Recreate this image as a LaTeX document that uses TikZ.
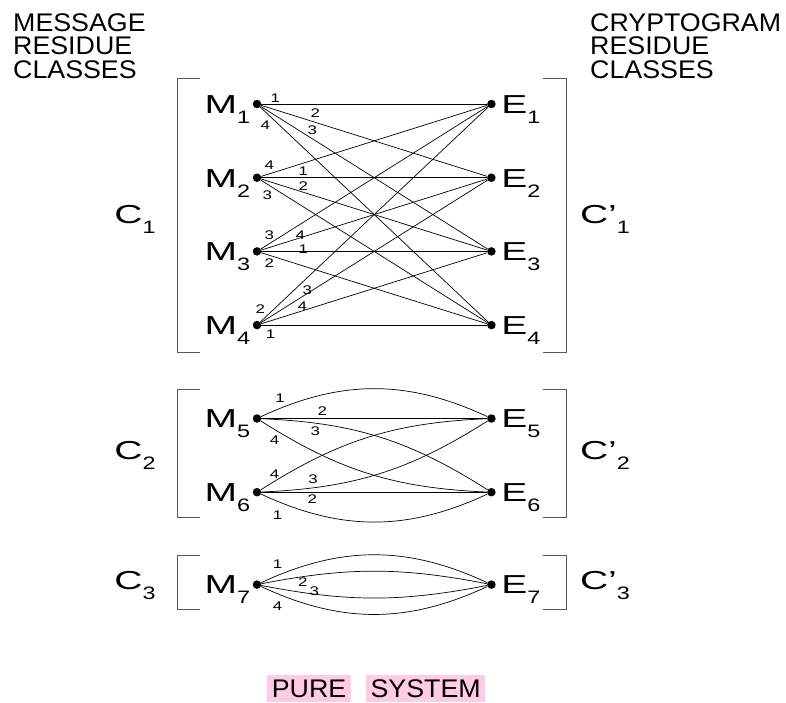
\documentclass[tikz,border=0pt]{standalone}
\usepackage{fontspec}
\setmainfont{Liberation Sans}
\newfontfamily\headfont[FakeStretch=1.05]{Liberation Sans}
\newfontfamily\bigfont[FakeStretch=1.5]{Liberation Sans}
\newfontfamily\subfont[FakeStretch=1.3]{Liberation Sans}
\newfontfamily\numfont[FakeStretch=1.35]{Liberation Sans}
\usetikzlibrary{positioning}
\definecolor{hlpink}{RGB}{255,204,228}
\newcommand{\lowsub}[1]{\raisebox{-10pt}{\subfont\fontsize{18}{18}\selectfont #1}}
\tikzset{
  dot/.style={circle, fill, inner sep=0pt, minimum size=8.5pt},
  mlab/.style={font=\bigfont\fontsize{26}{26}\selectfont, text height=18.6pt, text depth=0pt, inner sep=2.3pt},
  elab/.style={mlab, xshift=3pt},
  num/.style={font=\numfont\fontsize{12.5}{12.5}\selectfont, inner sep=0pt},
  wire/.style={line width=0.7pt},
  bracket/.style={draw=black!65, line width=1pt},
  head/.style={font=\headfont\fontsize{25.5}{23.3}\selectfont, align=left, inner sep=0pt, anchor=north west},
  tag/.style={fill=hlpink, font=\headfont\fontsize{25.5}{25.5}\selectfont, inner xsep=4.5pt, inner ysep=4pt, text height=18.3pt, text depth=0.5pt}
}

\begin{document}
\begin{tikzpicture}[x=1pt, y=1pt, node distance=64.8pt and 225.5pt]
  \useasboundingbox (0,0) rectangle (786,-702);

  % Headings
  \node[head] (msg) at (13,-13.4) {MESSAGE\\RESIDUE\\CLASSES};
  \node[head] (crypt) at (590,-13.4) {CRYPTOGRAM\\RESIDUE\\CLASSES};

  % Message and cryptogram residues
  \node[dot, label={[mlab]left:M\lowsub{1}}] (m1) at (257,-104) {};
  \node[dot, label={[mlab]left:M\lowsub{2}}, below=of m1] (m2) {};
  \node[dot, label={[mlab]left:M\lowsub{3}}, below=of m2] (m3) {};
  \node[dot, label={[mlab]left:M\lowsub{4}}, below=of m3] (m4) {};
  \node[dot, label={[mlab]left:M\lowsub{5}}, below=84.5pt of m4] (m5) {};
  \node[dot, label={[mlab]left:M\lowsub{6}}, below=of m5] (m6) {};
  \node[dot, label={[mlab]left:M\lowsub{7}}, below=83.5pt of m6] (m7) {};
  \node[dot, label={[elab]right:E\lowsub{1}}, right=of m1] (e1) {};
  \node[dot, label={[elab]right:E\lowsub{2}}, right=of m2] (e2) {};
  \node[dot, label={[elab]right:E\lowsub{3}}, right=of m3] (e3) {};
  \node[dot, label={[elab]right:E\lowsub{4}}, right=of m4] (e4) {};
  \node[dot, label={[elab]right:E\lowsub{5}}, right=of m5] (e5) {};
  \node[dot, label={[elab]right:E\lowsub{6}}, right=of m6] (e6) {};
  \node[dot, label={[elab]right:E\lowsub{7}}, right=of m7] (e7) {};

  % Classes
  \draw[bracket] (200,-78) -| (177,-352) -- (200,-352);
  \draw[bracket] (543,-78) -| (566,-352) -- (543,-352);
  \draw[bracket] (200,-389) -| (177,-517) -- (200,-517);
  \draw[bracket] (543,-389) -| (566,-517) -- (543,-517);
  \draw[bracket] (200,-555) -| (177,-609) -- (200,-609);
  \draw[bracket] (543,-555) -| (566,-609) -- (543,-609);
  \node[mlab] (c1) at (135,-214) {C\lowsub{1}};
  \node[mlab] (c2) at (135,-450) {C\lowsub{2}};
  \node[mlab] (c3) at (135,-580) {C\lowsub{3}};
  \node[mlab] (d1) at (605,-214) {C’\lowsub{1}};
  \node[mlab] (d2) at (605,-450) {C’\lowsub{2}};
  \node[mlab] (d3) at (605,-580) {C’\lowsub{3}};

  % Keys of class C1
  \draw[wire] (m1) -- node[num, pos=0.062, yshift=6pt] {1} (e1);
  \draw[wire] (m1) -- node[num, pos=0.239, yshift=9.2pt] {2} (e2);
  \draw[wire] (m1) -- node[num, pos=0.227, yshift=8.5pt] {3} (e3);
  \draw[wire] (m1) -- node[num, pos=0.022, yshift=-13.5pt] {4} (e4);
  \draw[wire] (m2) -- node[num, pos=0.036, yshift=8.2pt] {4} (e1);
  \draw[wire] (m2) -- node[num, pos=0.186, yshift=7pt] {1} (e2);
  \draw[wire] (m2) -- node[num, pos=0.186, yshift=6.4pt] {2} (e3);
  \draw[wire] (m2) -- node[num, pos=0.029, yshift=-10.7pt] {3} (e4);
  \draw[wire] (m3) -- node[num, pos=0.038, yshift=8.5pt] {3} (e1);
  \draw[wire] (m3) -- node[num, pos=0.173, yshift=2.5pt] {4} (e2);
  \draw[wire] (m3) -- node[num, pos=0.186, yshift=2pt] {1} (e3);
  \draw[wire] (m3) -- node[num, pos=0.036, yshift=-8.2pt] {2} (e4);
  \draw[wire] (m4) -- node[num, pos=0, yshift=13.3pt] {2} (e1);
  \draw[wire] (m4) -- node[num, pos=0.205, yshift=3.7pt] {3} (e2);
  \draw[wire] (m4) -- node[num, pos=0.182, yshift=4.9pt] {4} (e3);
  \draw[wire] (m4) -- node[num, pos=0.04, yshift=-9pt] {1} (e4);

  % Keys of class C2
  \draw[wire] (m5) to[bend left=25] node[num, pos=0.08, yshift=10pt] {1} (e5);
  \draw[wire] (m5) -- node[num, pos=0.27, yshift=7pt] {2} (e5);
  \draw[wire] (m5) to[bend left=15] node[num, pos=0.21, yshift=-8pt] {3} (e6);
  \draw[wire] (m5) to[bend right=15] node[num, pos=0.06, yshift=-11pt] {4} (e6);
  \draw[wire] (m6) to[bend left=15] node[num, pos=0.06, yshift=7pt] {4} (e5);
  \draw[wire] (m6) to[bend right=15] node[num, pos=0.2, yshift=8.5pt] {3} (e5);
  \draw[wire] (m6) -- node[num, pos=0.225, yshift=-7pt] {2} (e6);
  \draw[wire] (m6) to[bend right=25] node[num, pos=0.07, yshift=-14pt] {1} (e6);

  % Keys of class C3
  \draw[wire] (m7) to[bend left=25] node[num, pos=0.07, yshift=11pt] {1} (e7);
  \draw[wire] (m7) to[bend left=11] node[num, pos=0.17, yshift=-5pt] {2} (e7);
  \draw[wire] (m7) to[bend right=11] node[num, pos=0.22, yshift=3pt] {3} (e7);
  \draw[wire] (m7) to[bend right=25] node[num, pos=0.07, yshift=-12pt] {4} (e7);

  % Caption
  \node[tag] (pure) at (309,-688.4) {PURE};
  \node[tag, right=15pt of pure] (sys) {SYSTEM};
\end{tikzpicture}
\end{document}
